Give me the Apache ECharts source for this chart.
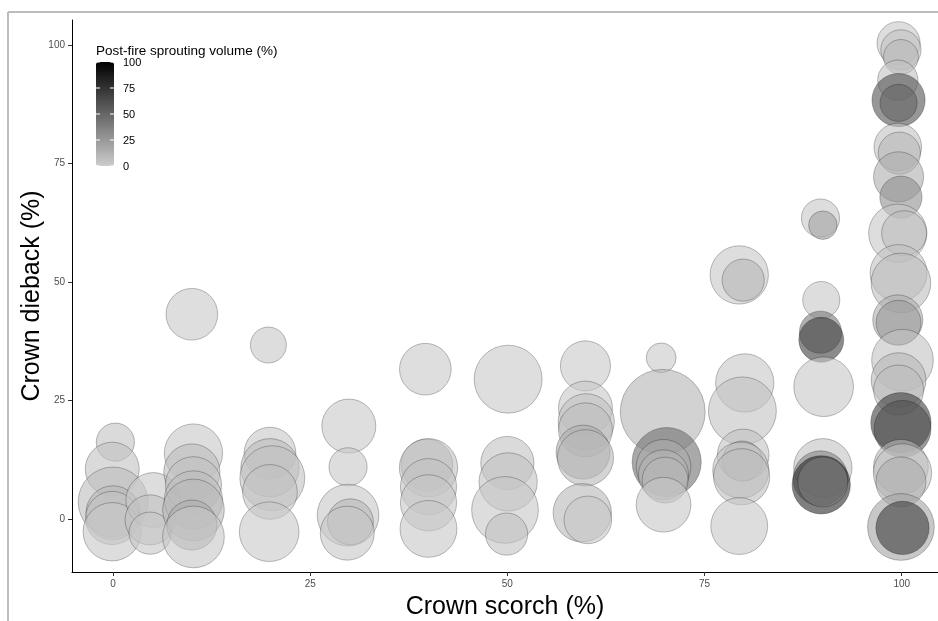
<!DOCTYPE html>
<html>
<head>
<meta charset="utf-8">
<script src="https://cdn.jsdelivr.net/npm/echarts@6/dist/echarts.min.js"></script>
<style>
  html, body { margin: 0; padding: 0; background: #fff; }
  #main { width: 938px; height: 621px; }
</style>
</head>
<body>
<div id="main"></div>
<script>
// crown scorch (%) per tree, jittered around the sampled classes
const scorch = [
  0.3, -0.1, 0, 0, -0.1, -0.1,
  5.1, 4.7, 4.7,
  10, 10.2, 10, 10.2, 10.2, 10.2, 10, 10.2,
  19.7, 19.9, 19.9, 20.2, 19.9, 19.8,
  29.9, 29.8, 29.8, 30.1, 29.7,
  39.6, 39.8, 40, 40, 40, 40,
  50.1, 50, 50.1, 49.7, 49.9,
  59.9, 59.9, 60, 59.9, 59.6, 59.9, 59.5, 60.2,
  69.5, 69.7, 70.2, 69.8, 69.8, 70, 69.8,
  79.4, 79.9, 80.1, 79.8, 79.9, 79.8, 79.6, 79.7, 79.4,
  89.7, 90, 89.8, 89.7, 89.8, 90.1, 90, 89.7, 89.8, 90,
  99.6, 99.9, 99.9, 99.5, 99.6, 99.6, 99.5, 99.7, 99.6, 99.9,
  99.5, 100.3, 99.6, 99.9, 99.5, 99.6, 100.1, 99.6, 99.6, 99.9,
  100.1, 99.9, 100.1, 99.9, 99.9, 100.1
];
// crown dieback (%)
const dieback = [
  16.2, 10.5, 3.6, 1.3, 0.2, -2.7,
  4, -0.2, -3,
  43.2, 13.9, 9.9, 7.2, 4, 1.9, -1.3, -3.8,
  36.7, 13.9, 10.8, 8.6, 5.7, -2.7,
  19.6, 11, 0.8, -0.6, -3,
  31.6, 11.4, 10.8, 6.8, 3.4, -2.1,
  29.5, 11.8, 7.8, 1.9, -3.2,
  32.3, 23.4, 20.5, 18.8, 14.1, 12.9, 1.3, -0.2,
  34, 22.6, 12, 11, 9.3, 8.2, 3,
  51.5, 50.4, 28.7, 22.8, 13.5, 12.2, 10.3, 8.9, -1.5,
  63.5, 62, 46.2, 39.4, 37.8, 27.9, 10.8, 8.6, 7.2, 7.8,
  100.4, 99, 97.5, 92.6, 88.4, 87.8, 78.5, 77.2, 72.2, 67.9,
  60.3, 60.3, 51.9, 49.8, 42, 41.4, 33.5, 29.3, 27.2, 20.3,
  19, 11, 9.7, 7.8, -1.7, -1.9
];
// tree size (bubble area)
const treeSize = [
  18, 36, 60, 36, 35, 42,
  37, 31, 22,
  33, 42, 39, 39, 42, 47, 31, 47,
  16, 33, 42, 52, 37, 44,
  36, 18, 47, 26, 36,
  33, 33, 42, 39, 39, 40,
  57, 35, 42, 55, 22,
  31, 36, 39, 36, 36, 39, 42, 28,
  11, 89, 59, 37, 31, 26, 37,
  42, 22, 42, 57, 33, 20, 39, 39, 40,
  18, 10, 17, 22, 25, 44, 42, 37, 42, 31,
  23, 20, 15, 20, 35, 17, 28, 22, 31, 22,
  42, 25, 40, 44, 31, 25, 47, 37, 31, 45,
  40, 37, 42, 31, 55, 35
];
// post-fire sprouting volume (%)
const sprouting = [
  5, 5, 8, 10, 5, 3,
  3, 5, 3,
  2, 3, 8, 5, 8, 10, 15, 3,
  3, 3, 8, 5, 5, 2,
  2, 3, 3, 10, 3,
  2, 12, 5, 5, 3, 3,
  2, 5, 5, 3, 5,
  2, 3, 5, 8, 15, 10, 10, 3,
  2, 12, 45, 15, 12, 10, 3,
  3, 10, 3, 5, 5, 12, 5, 8, 3,
  3, 20, 3, 40, 70, 3, 5, 35, 80, 40,
  3, 5, 10, 5, 60, 50, 5, 10, 15, 30,
  3, 8, 5, 8, 15, 25, 5, 10, 8, 70,
  60, 10, 5, 15, 20, 70
];
const xTicks = [0, 25, 50, 75, 100];
const yTicks = [0, 25, 50, 75, 100];
const legendTicks = [0, 25, 50, 75, 100];

const points = scorch.map((x, i) => [x, dieback[i], treeSize[i], sprouting[i]]);

// colourbar placement
const barLeft = 96, barTop = 62, barW = 18, barH = 104;

const legendGraphics = [
  {
    type: 'text', left: 96, top: 44,
    style: { text: 'Post-fire sprouting volume (%)', fill: '#000', font: '13.5px "Liberation Sans", Arial, sans-serif' }
  }
];
legendTicks.forEach(t => {
  const y = barTop + barH - (t / 100) * barH;
  legendGraphics.push(
    { type: 'line', shape: { x1: barLeft, y1: y, x2: barLeft + 4, y2: y }, style: { stroke: '#fff', lineWidth: 1 }, z: 100 },
    { type: 'line', shape: { x1: barLeft + barW - 4, y1: y, x2: barLeft + barW, y2: y }, style: { stroke: '#fff', lineWidth: 1 }, z: 100 },
    {
      type: 'text', x: barLeft + barW + 9, y: y + 1,
      style: { text: String(t), fill: '#000', font: '11px "Liberation Sans", Arial, sans-serif', textVerticalAlign: 'middle' }, z: 100
    }
  );
});

const chart = echarts.init(document.getElementById('main'), null, { renderer: 'canvas' });

chart.setOption({
  backgroundColor: '#fff',
  animation: false,
  grid: { left: 72, right: 0, top: 20, bottom: 49, outerBoundsMode: 'none', containLabel: false },
  xAxis: {
    type: 'value',
    min: -5.2, max: 104.6,
    name: 'Crown scorch (%)',
    nameLocation: 'middle',
    nameGap: 23,
    nameTextStyle: { fontSize: 25, color: '#000', fontFamily: 'Liberation Sans' },
    axisLine: { show: true, onZero: false, lineStyle: { color: '#000', width: 1 } },
    axisTick: { show: true, length: 4, lineStyle: { color: '#333' }, customValues: xTicks },
    axisLabel: { color: '#4d4d4d', fontSize: 10, margin: 7, fontFamily: 'Liberation Sans', customValues: xTicks },
    splitLine: { show: false }
  },
  yAxis: {
    type: 'value',
    min: -11.2, max: 105.3,
    name: 'Crown dieback (%)',
    nameLocation: 'middle',
    nameRotate: 90,
    nameGap: 27,
    nameMoveOverlap: false,
    nameTextStyle: { fontSize: 25, color: '#000', fontFamily: 'Liberation Sans' },
    axisLine: { show: true, onZero: false, lineStyle: { color: '#000', width: 1 } },
    axisTick: { show: true, length: 4, lineStyle: { color: '#333' }, customValues: yTicks },
    axisLabel: { color: '#4d4d4d', fontSize: 10, margin: 7, fontFamily: 'Liberation Sans', customValues: yTicks },
    splitLine: { show: false }
  },
  visualMap: {
    type: 'continuous',
    dimension: 3,
    min: 0, max: 100,
    calculable: false,
    left: barLeft, top: barTop,
    itemWidth: barW, itemHeight: barH,
    padding: 0,
    text: null,
    showLabel: false,
    inRange: { color: ['#cccccc', '#000000'] },
    seriesIndex: 0
  },
  series: [{
    type: 'scatter',
    data: points,
    symbolSize: v => 9 * Math.sqrt(v[2]),
    itemStyle: { opacity: 0.6, borderColor: 'rgba(0,0,0,0.6)', borderWidth: 0.7 },
    emphasis: { disabled: true }
  }],
  graphic: [
    { type: 'line', shape: { x1: 8, y1: 12, x2: 938, y2: 12 }, style: { stroke: '#bdbdbd', lineWidth: 2 } },
    { type: 'line', shape: { x1: 8, y1: 12, x2: 8, y2: 621 }, style: { stroke: '#bdbdbd', lineWidth: 2 } }
  ].concat(legendGraphics)
});
</script>
</body>
</html>
